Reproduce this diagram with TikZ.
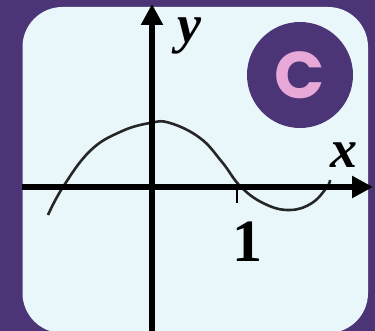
\documentclass[tikz,border=0pt]{standalone}
\usepackage{fontspec}
\setmainfont{Liberation Serif}
\newfontfamily\badgefont{Poppins}
\usetikzlibrary{positioning,arrows.meta}
\definecolor{bgpurple}{RGB}{76,53,118}
\definecolor{panelblue}{RGB}{233,247,251}
\definecolor{badgepink}{RGB}{232,168,216}

\begin{document}
\begin{tikzpicture}[
    x=1pt, y=1pt,
    axis/.style={line width=5.5pt, -{Triangle[length=21pt,width=21pt]}},
    graphline/.style={line width=2.6pt, black!85},
    lbl/.style={inner sep=0pt, font=\fontsize{54}{54}\selectfont\bfseries\itshape},
    badge/.style={circle, fill=bgpurple, minimum size=106pt, inner sep=0pt,
                  text=badgepink, font=\fontsize{66}{66}\badgefont\bfseries}
  ]

  \fill[bgpurple] (0,0) rectangle (375,331);
  \useasboundingbox (0,0) rectangle (375,331);
  \fill[panelblue, rounded corners=40pt] (22.5,-2) rectangle (368,324);

  \coordinate (ybot) at (152,-2);
  \coordinate (ytop) at (152,327);
  \coordinate (xleft) at (22,144);
  \coordinate (xright) at (373,144);
  \coordinate (tick) at (237,144);

  \draw[graphline] plot[smooth, tension=0.7] coordinates {
    (48,116) (63,144) (90,180) (120,199) (150,208) (170,208)
    (200,193) (222,169) (241,144) (265,127) (290,121) (312,128) (327,144) (330,151)};

  \draw[axis] (ybot) -- (ytop);
  \draw[axis] (xleft) -- (xright);
  \draw[line width=2pt] (tick) -- ++(0,-16);

  \node[lbl] (ylabel) at (189,295) {y};
  \node[lbl] (xlabel) at (344,176) {x};
  \node[inner sep=0pt, font=\fontsize{60}{60}\selectfont\bfseries] (one) at (247,89) {1};
  \node[badge] (answer) at (300,256) {C};

\end{tikzpicture}
\end{document}
